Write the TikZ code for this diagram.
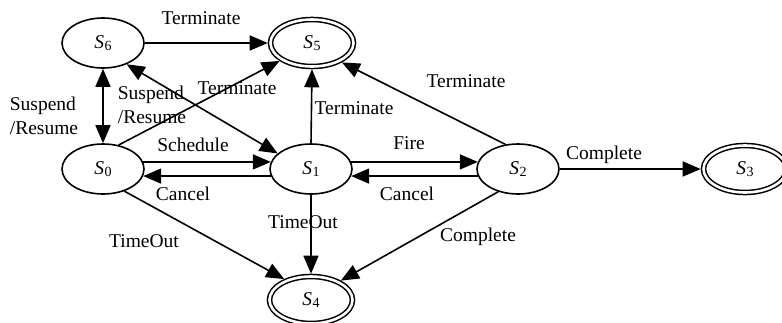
\documentclass[tikz,border=0pt]{standalone}
\usepackage{fontspec}
\setmainfont{Liberation Serif}
\usetikzlibrary{arrows.meta,shapes.geometric}
\newcommand{\stname}[1]{\textit{S}\kern0.5pt\raisebox{-0.3ex}{\fontsize{14}{14}\selectfont #1}}
\begin{document}
\begin{tikzpicture}[x=1pt,y=-1pt,
  every node/.style={font=\fontsize{19.5}{24}\selectfont},
  state/.style={ellipse,draw,line width=1.6pt,minimum width=82pt,minimum height=50pt,inner sep=0pt,outer sep=0.8pt},
  final/.style={ellipse,draw,line width=1.5pt,double,double distance=2.6pt,minimum width=83pt,minimum height=47pt,inner sep=0pt,outer sep=2.8pt},
  lbl/.style={inner sep=0pt},
  edge/.style={line width=1.6pt,-{Triangle[length=18pt,width=15pt]}},
  bedge/.style={line width=1.6pt,{Triangle[length=18pt,width=15pt]}-{Triangle[length=18pt,width=15pt]}}]
\useasboundingbox (0,0) rectangle (782,322);
\node[state] (S6) at (103,43) {\stname{6}};
\node[final] (S5) at (312,43) {\stname{5}};
\node[state] (S0) at (103,169) {\stname{0}};
\node[state] (S1) at (311,169) {\stname{1}};
\node[state] (S2) at (518,169) {\stname{2}};
\node[final] (S3) at (745,169) {\stname{3}};
\node[final] (S4) at (311,300) {\stname{4}};

\draw[edge] (S6.east) -- (S5.west);
\draw[bedge] (S6.south) -- (S0.north);
\draw[edge] (S0.57) -- (S5.209);
\draw[bedge] (S6.-42) -- (S1.155);
\draw[edge] (S0.10) -- (S1.170);
\draw[edge] (S1.190) -- (S0.350);
\draw[edge] (S1.10) -- (S2.170);
\draw[edge] (S2.190) -- (S1.350);
\draw[edge] (S1.north) -- (S5.south);
\draw[edge] (S2.117) -- (S5.-33);
\draw[edge] (S2.east) -- (S3.west);
\draw[edge] (S1.south) -- (S4.north);
\draw[edge] (S0.-46) -- (S4.142);
\draw[edge] (S2.229) -- (S4.33);

\node[lbl] (l1) at (201,18) {Terminate};
\node[lbl,align=left] (l2) at (44,116) {Suspend\\/Resume};
\node[lbl,align=left] (l3) at (152,105) {Suspend\\/Resume};
\node[lbl] (l4) at (237,88) {Terminate};
\node[lbl] (l5) at (193,145) {Schedule};
\node[lbl] (l6) at (354,108) {Terminate};
\node[lbl] (l7) at (466,81) {Terminate};
\node[lbl] (l8) at (409,143) {Fire};
\node[lbl] (l9) at (604,155) {Complete};
\node[lbl] (l10) at (183,194) {Cancel};
\node[lbl] (l11) at (407,194) {Cancel};
\node[lbl] (l12) at (303,222) {TimeOut};
\node[lbl] (l13) at (144,241) {TimeOut};
\node[lbl] (l14) at (478,237) {Complete};
\end{tikzpicture}
\end{document}
